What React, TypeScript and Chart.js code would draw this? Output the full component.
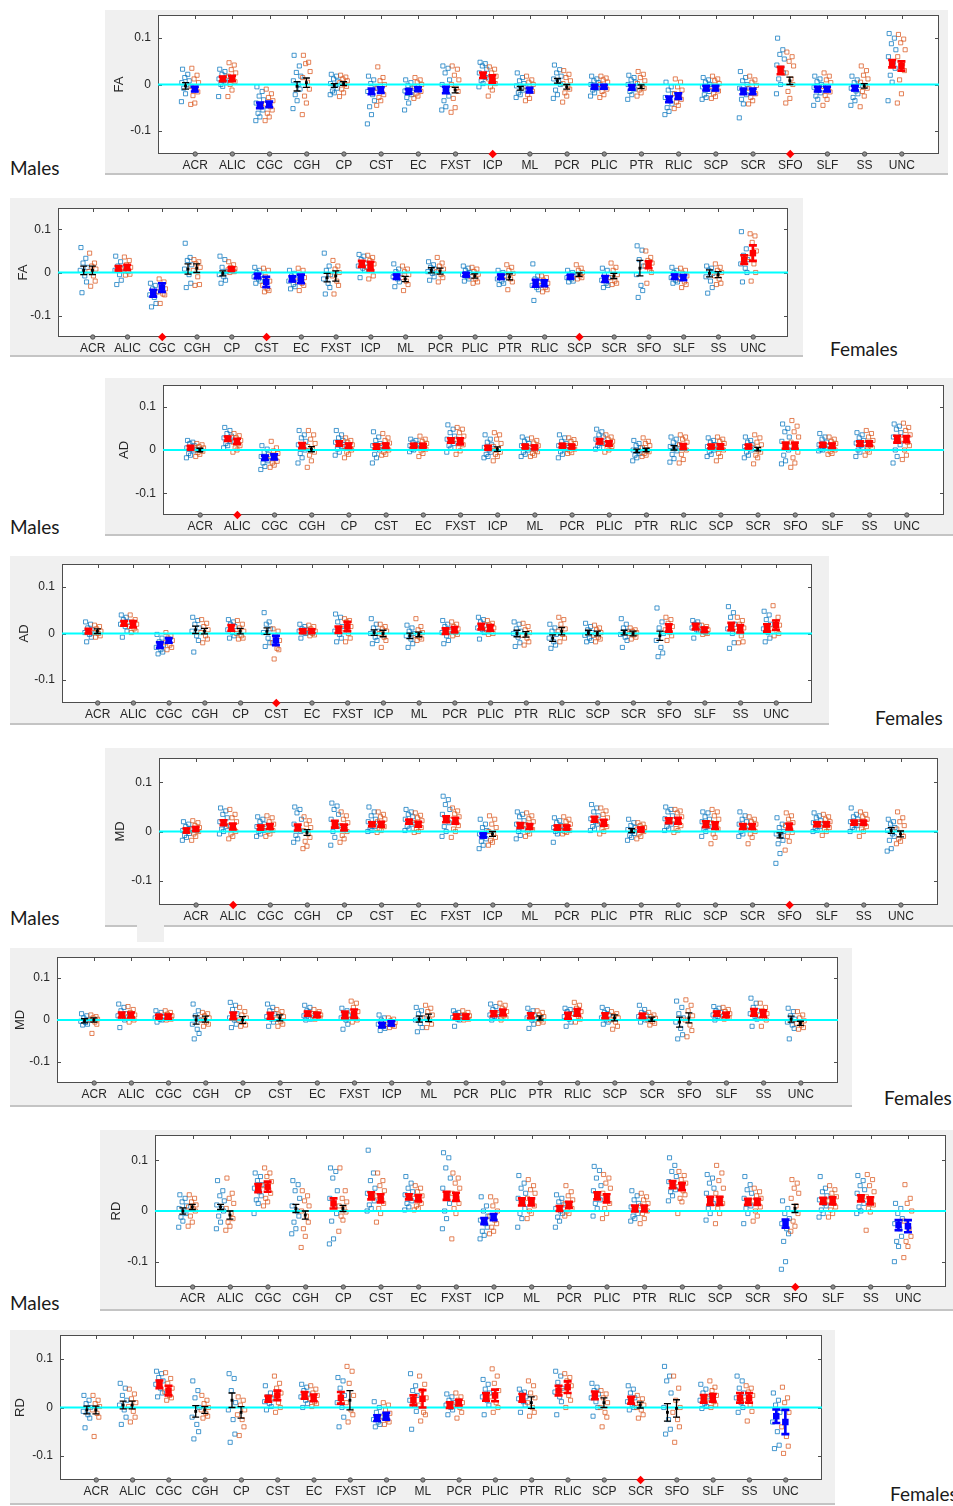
import React, { useEffect, useRef } from 'react';
import { Chart, registerables } from 'chart.js';
Chart.register(...registerables);

// ---------- shared labels ----------
const CATEGORIES = ['ACR','ALIC','CGC','CGH','CP','CST','EC','FXST','ICP','ML','PCR','PLIC','PTR','RLIC','SCP','SCR','SFO','SLF','SS','UNC'];
const Y_TICKS = [-0.1, 0, 0.1];
const Y_TICK_LABELS = ['-0.1', '0', '0.1'];

// ---------- data (values x 1000) ----------
// Panel 1: FA, Males
const FA_M_BLUE_PTS = [[33,22,15,8,4,0,-3,-8,-20,-37],[33,28,22,16,12,8,4,0,-4,-26],[-5,-15,-25,-33,-40,-48,-55,-62,-70,-78],[63,40,26,18,8,0,-10,-22,-35,-52],[22,18,12,7,2,-2,-8,-14,-18,-22],[18,10,2,-8,-15,-22,-35,-48,-65,-85],[10,4,-2,-8,-14,-18,-22,-28,-40,-55],[40,35,25,10,0,-12,-25,-35,-48,-55],[48,45,40,33,25,20,15,8,2,-5],[25,15,8,2,-3,-8,-12,-18,-22,-28],[42,32,25,18,12,6,0,-12,-22,-30],[18,12,8,4,0,-4,-8,-12,-18,-25],[20,15,10,5,0,-5,-10,-15,-22,-32],[5,-5,-12,-20,-28,-35,-42,-50,-58,-65],[15,10,5,0,-5,-10,-15,-22,-28,-32],[28,15,8,0,-8,-15,-22,-32,-42,-72],[100,75,65,55,42,35,25,12,0,-20],[18,12,6,0,-6,-12,-18,-25,-32,-45],[18,10,4,-2,-8,-14,-20,-28,-35,-45],[110,100,88,75,60,48,35,20,5,-35]];
const FA_M_ORANGE_PTS = [[35,20,12,4,-4,-10,-16,-24,-40,-43],[47,42,32,25,18,12,6,0,-12,-26],[-10,-20,-28,-35,-42,-48,-55,-62,-70,-78],[63,48,45,28,15,5,-10,-25,-40,-65],[20,16,12,8,4,0,-4,-10,-18,-26],[38,15,8,0,-8,-15,-22,-28,-35,-45],[15,10,5,0,-5,-10,-15,-20,-25,-30],[40,33,20,10,0,-8,-15,-30,-50,-60],[38,33,25,18,12,8,2,-5,-12,-25],[18,10,5,0,-5,-10,-15,-22,-30,-35],[30,22,15,8,2,-4,-10,-18,-25,-38],[18,14,10,5,0,-5,-10,-15,-22,-28],[28,22,15,8,2,-4,-8,-12,-18,-25],[12,5,-5,-12,-20,-25,-32,-38,-45,-52],[18,12,8,2,-4,-8,-14,-20,-26,-30],[18,10,5,-2,-8,-14,-20,-28,-35,-42],[70,60,50,40,25,12,0,-15,-30,-40],[25,18,10,4,-4,-10,-16,-24,-32,-45],[40,30,20,12,5,-2,-8,-15,-25,-48],[108,98,90,75,60,45,30,10,-20,-40]];
const FA_M_BLUE_MEAN = [-3,12,-45,-4,-2,-15,-15,-12,20,-8,8,-5,-6,-32,-8,-15,30,-10,-8,45];
const FA_M_BLUE_SE = [7,5,6,10,4,6,5,7,6,4,5,4,5,6,5,6,8,5,5,8];
const FA_M_BLUE_SIG = 'krbkkbbbrkkbbbbbrbbr';
const FA_M_ORANGE_MEAN = [-10,13,-43,4,2,-12,-10,-12,12,-12,-5,-5,-5,-25,-8,-15,8,-10,-3,40];
const FA_M_ORANGE_SE = [5,6,6,10,4,6,4,6,8,5,5,4,4,6,5,6,8,5,5,10];
const FA_M_ORANGE_SIG = 'brbkkbbkrbkbkbbbkbkr';
const FA_M_MARKED = [9, 17];

// Panel 2: FA, Females
const FA_F_BLUE_PTS = [[58,33,22,12,5,-8,-22,-47],[38,25,15,10,5,-5,-18,-28],[-25,-30,-38,-45,-52,-58,-72,-80],[68,35,28,18,8,-5,-25,-35],[38,30,12,2,-5,-10,-18,-25],[12,5,0,-5,-10,-15,-20,-25],[5,-2,-8,-15,-20,-28,-33,-38],[45,15,5,-5,-15,-25,-35,-50],[42,38,30,22,15,10,5,-12],[20,8,2,-5,-10,-15,-22,-33],[25,18,12,8,2,-2,-10,-18],[15,10,5,0,-5,-10,-15,-20],[5,0,-5,-10,-15,-20,-25,-28],[20,-8,-15,-22,-30,-35,-40,-65],[5,0,-5,-8,-12,-15,-20,-22],[10,5,-5,-12,-18,-25,-30,-35],[62,52,30,15,-5,-30,-42,-58],[12,5,0,-5,-12,-18,-22,-25],[15,10,5,-2,-10,-20,-35,-48],[95,55,40,30,20,10,0,-22]];
const FA_F_ORANGE_PTS = [[45,22,15,8,2,-8,-20,-32],[36,28,18,12,6,2,-4,-6],[-15,-22,-30,-38,-45,-50,-52,-72],[30,25,20,12,5,-10,-28,-30],[25,18,12,9,6,4,2,0],[10,5,-10,-20,-30,-38,-42,-45],[10,5,-5,-12,-20,-25,-30,-42],[28,15,8,0,-8,-20,-30,-50],[40,35,28,20,12,5,-8,-15],[15,8,2,-5,-12,-20,-28,-42],[35,22,15,8,2,-5,-12,-22],[12,8,2,-4,-10,-15,-22,-25],[18,12,5,-2,-8,-15,-22,-40],[-8,-12,-18,-25,-30,-35,-40,-45],[18,10,5,0,-5,-8,-12,-15],[22,12,5,-5,-12,-20,-25,-28],[50,35,28,22,15,5,0,-25],[10,5,-2,-8,-15,-22,-28,-35],[20,12,5,0,-8,-15,-25,-28],[90,85,70,50,35,20,0,-20]];
const FA_F_BLUE_MEAN = [5,10,-48,8,-2,-8,-15,-12,20,-10,5,-5,-10,-25,-10,-15,10,-10,-2,30];
const FA_F_BLUE_SE = [10,5,8,12,6,5,6,10,7,5,6,4,5,8,4,7,18,5,8,10];
const FA_F_BLUE_SIG = 'krbkkbbkrbkbbbbbkbkr';
const FA_F_ORANGE_MEAN = [5,12,-35,10,8,-22,-15,-8,15,-15,3,-8,-10,-25,-5,-8,18,-12,-5,45];
const FA_F_ORANGE_SE = [10,6,10,10,4,12,10,12,10,6,7,5,7,7,4,6,8,6,7,18];
const FA_F_ORANGE_SIG = 'krbkrbbkrkkkkbkkrbkr';
const FA_F_MARKED = [3, 6, 15];

// Panel 3: AD, Males
const AD_M_BLUE_PTS = [[22,18,15,10,5,2,-2,-8,-12,-18],[52,45,38,32,28,24,20,15,10,5],[10,2,-5,-10,-15,-20,-25,-30,-38,-45],[45,35,28,20,12,6,0,-8,-18,-30],[45,35,28,22,18,12,8,2,-5,-12],[42,30,22,15,10,5,0,-10,-18,-30],[25,22,18,14,10,8,5,2,0,-4],[58,48,40,32,25,20,15,10,4,-5],[35,25,18,12,6,0,-5,-10,-15,-18],[30,25,20,15,10,5,0,-5,-10,-15],[35,28,20,15,10,6,2,-4,-10,-18],[48,42,35,30,25,20,15,10,6,2],[22,15,10,5,0,-4,-8,-12,-18,-25],[30,25,18,12,8,3,-2,-10,-20,-28],[28,22,18,12,8,4,0,-4,-10,-15],[30,22,18,12,8,4,0,-5,-12,-18],[60,50,42,30,20,10,0,-12,-25,-32],[38,30,25,18,12,8,4,2,0,-2],[40,35,28,22,16,10,5,0,-5,-15],[60,55,48,40,30,22,12,0,-15,-30]];
const AD_M_ORANGE_PTS = [[15,12,8,5,2,0,-3,-6,-10,-15],[38,33,28,22,18,14,10,5,0,-5],[20,5,-2,-8,-14,-20,-26,-30,-35,-40],[45,35,25,15,8,2,-5,-12,-25,-40],[28,22,18,12,8,5,0,-5,-10,-18],[38,28,22,16,10,5,0,-5,-10,-12],[32,25,20,15,10,6,2,-2,-8,-15],[52,48,40,32,25,18,12,5,-2,-10],[40,35,25,15,8,2,-5,-10,-15,-25],[28,22,16,10,5,0,-4,-8,-12,-15],[28,24,20,15,10,6,2,-2,-6,-8],[35,30,25,20,15,12,8,4,0,-5],[28,20,15,10,5,0,-4,-8,-12,-15],[35,30,25,18,12,5,0,-10,-22,-30],[30,25,20,15,10,5,0,-8,-15,-25],[35,28,18,12,5,0,-5,-12,-18,-32],[68,55,42,30,18,8,-5,-18,-30,-40],[30,25,20,15,10,5,0,-4,-8,-10],[45,38,30,22,16,10,5,0,-5,-12],[62,52,45,35,25,18,10,0,-12,-22]];
const AD_M_BLUE_MEAN = [5,26,-18,10,15,8,10,22,5,8,10,20,-2,5,8,8,10,12,15,25];
const AD_M_BLUE_SE = [4,5,5,6,5,5,4,5,4,4,4,5,4,5,4,4,7,4,5,8];
const AD_M_BLUE_SIG = 'rrbrrrrrrrrrkkrrrrrr';
const AD_M_ORANGE_MEAN = [0,20,-16,2,10,10,10,20,2,6,8,15,0,8,8,2,10,10,15,25];
const AD_M_ORANGE_SE = [4,6,6,6,5,5,4,7,5,4,4,5,4,6,5,4,7,5,5,7];
const AD_M_ORANGE_SIG = 'krbkrrrrkrrrkrrkrrrr';
const AD_M_MARKED = [2];

// Panel 4: AD, Females
const AD_F_BLUE_PTS = [[25,20,12,8,2,-2,-8,-18],[40,35,30,25,20,15,5,-8],[-2,-10,-18,-25,-30,-35,-40,-44],[35,28,20,12,5,-5,-15,-40],[30,25,20,15,8,2,-5,-10],[45,25,20,10,2,-10,-20,-28],[20,15,10,8,5,2,0,-10],[42,35,25,15,5,-2,-10,-18],[32,20,12,5,0,-8,-15,-22],[18,12,5,0,-5,-12,-22,-30],[28,20,15,8,2,-5,-15,-22],[35,30,25,18,12,8,2,-12],[25,20,10,5,0,-8,-20,-28],[20,12,5,-2,-10,-18,-25,-32],[22,15,8,2,-4,-10,-15,-18],[32,20,12,5,-2,-8,-15,-30],[55,25,12,0,-15,-30,-42,-50],[28,25,20,18,12,8,5,-10],[58,45,35,20,10,0,-20,-32],[48,40,30,20,10,2,-10,-18]];
const AD_F_ORANGE_PTS = [[18,15,10,5,2,0,-5,-8],[40,30,25,20,15,10,5,2],[2,-5,-10,-15,-20,-25,-30,-35],[30,22,15,8,2,-5,-12,-20],[28,20,12,5,0,-5,-10,-12],[10,5,-5,-15,-20,-32,-35,-55],[18,15,10,5,2,0,-3,-5],[32,28,25,15,10,0,-10,-18],[20,15,10,5,0,-8,-15,-30],[32,15,8,2,-4,-8,-12,-15],[25,20,15,10,5,2,-2,-5],[28,22,18,12,8,4,0,-2],[22,15,8,2,-4,-10,-18,-25],[35,30,20,10,5,-2,-10,-18],[18,12,8,2,-4,-8,-12,-18],[12,8,5,2,0,-3,-8,-12],[35,30,22,15,8,2,-5,-15],[18,15,10,8,5,2,0,-2],[35,28,20,12,5,-5,-18,-20],[60,35,25,18,10,5,0,-5]];
const AD_F_BLUE_MEAN = [5,22,-25,8,12,5,5,8,2,-5,5,15,0,-10,2,2,-5,15,15,12];
const AD_F_BLUE_SE = [5,5,6,8,6,7,4,7,6,6,6,6,7,7,5,5,10,6,8,8];
const AD_F_BLUE_SIG = 'rrbkrkrrkkrrkkkkkrrr';
const AD_F_ORANGE_MEAN = [5,20,-15,5,5,-15,5,15,0,-2,8,12,-2,5,0,0,12,8,10,18];
const AD_F_ORANGE_SE = [5,7,5,6,6,10,4,10,7,5,6,6,6,8,5,5,8,5,8,10];
const AD_F_ORANGE_SIG = 'krbkkbrrkkrrkkkkrrrr';
const AD_F_MARKED = [6];

// Panel 5: MD, Males
const MD_M_BLUE_PTS = [[20,15,10,6,2,0,-4,-8,-12,-18],[48,42,35,28,20,15,10,5,0,-5],[30,25,20,15,10,5,2,0,-5,-10],[50,45,38,25,15,8,0,-8,-15,-22],[58,52,45,35,25,18,10,0,-12,-28],[50,40,32,25,20,15,10,5,2,0],[45,40,35,30,25,20,15,10,5,2],[72,65,55,45,35,25,18,10,0,-10],[25,15,8,2,-5,-10,-15,-20,-28,-35],[40,35,30,22,15,10,5,0,-8,-15],[28,22,18,12,8,5,2,0,-5,-22],[55,48,40,32,26,20,15,10,5,2],[25,18,12,8,4,0,-4,-8,-12,-18],[50,45,40,32,26,20,15,10,5,2],[40,38,30,25,20,15,10,5,0,-10],[40,32,25,20,15,10,5,0,-5,-10],[28,15,8,0,-5,-10,-18,-25,-45,-65],[38,32,28,22,18,14,10,6,2,0],[48,35,30,25,20,15,12,8,4,0],[25,20,15,8,2,-5,-10,-18,-35,-40]];
const MD_M_ORANGE_PTS = [[22,18,12,8,5,2,0,-5,-10,-18],[45,35,28,20,12,5,0,-5,-10,-15],[32,28,20,15,10,6,2,0,-5,-10],[30,22,15,8,2,-5,-12,-20,-30,-35],[40,32,25,18,12,5,0,-8,-15,-22],[40,35,30,25,20,15,10,5,2,-2],[38,33,28,22,18,12,8,5,0,-2],[48,42,36,30,24,18,12,5,0,-12],[32,25,15,8,0,-5,-12,-18,-22,-28],[38,32,26,20,14,8,4,0,-5,-10],[30,25,20,15,10,6,2,0,-2,-5],[48,42,35,28,20,15,10,5,0,-5],[18,15,12,8,5,2,0,-5,-10,-15],[45,42,38,30,24,18,12,6,2,-2],[45,40,32,25,18,12,5,-5,-12,-25],[30,25,20,15,10,5,0,-5,-12,-25],[38,32,25,18,12,5,-2,-10,-20,-38],[35,30,25,20,16,12,8,4,0,-8],[40,35,30,25,20,15,10,5,0,-10],[40,28,20,12,5,-2,-10,-15,-20,-25]];
const MD_M_BLUE_MEAN = [2,18,8,8,15,15,20,25,-8,12,8,25,2,22,15,10,-8,15,18,2];
const MD_M_BLUE_SE = [4,5,4,6,7,4,4,6,4,5,4,5,4,5,6,5,5,4,4,6];
const MD_M_BLUE_SIG = 'rrrrrrrrbrrrkrrrkrrk';
const MD_M_ORANGE_MEAN = [5,10,10,-2,8,15,15,22,-5,10,8,18,4,22,12,10,10,15,18,-5];
const MD_M_ORANGE_SE = [4,6,5,6,6,5,5,6,5,5,4,6,4,6,7,5,6,4,4,6];
const MD_M_ORANGE_SIG = 'rrrkrrrrkrrrrrrrrrrk';
const MD_M_MARKED = [2, 17];

// Panel 6: MD, Females
const MD_F_BLUE_PTS = [[15,10,5,0,-3,-6,-10,-12],[38,30,22,15,10,5,0,-18],[22,18,12,8,5,2,0,-5],[38,22,10,0,-10,-22,-32,-45],[42,35,25,15,5,0,-10,-18],[38,30,22,15,8,2,-5,-15],[35,30,22,15,10,5,2,0],[28,22,15,10,5,0,-10,-22],[12,5,0,-5,-10,-15,-20,-25],[30,22,15,5,0,-8,-18,-28],[22,18,15,10,6,2,0,-15],[38,32,25,18,12,8,4,0],[28,22,15,10,5,0,-10,-20],[28,25,20,15,8,2,-5,-15],[30,25,18,12,5,0,-5,-10],[35,25,18,12,8,4,0,-5],[45,30,15,5,-5,-20,-35,-45],[32,28,22,18,12,8,5,0],[52,40,30,22,15,8,2,-15],[28,20,10,2,-5,-12,-20,-45]];
const MD_F_ORANGE_PTS = [[12,8,5,2,0,-5,-10,-32],[32,25,18,12,8,4,0,-5],[22,18,14,10,6,4,2,0],[18,15,10,5,0,-5,-10,-15],[30,20,12,5,0,-5,-12,-15],[25,20,12,8,2,-4,-10,-15],[25,20,15,12,10,8,5,2],[45,40,30,20,12,5,0,-5],[5,2,-2,-6,-10,-12,-15,-18],[35,28,20,12,5,0,-10,-18],[22,18,12,10,6,4,2,0],[40,35,28,20,14,10,5,0],[22,18,12,8,4,0,-5,-8],[42,35,28,20,15,8,2,-5],[20,15,10,5,0,-5,-15,-22],[18,12,8,4,0,-4,-8,-12],[48,35,22,10,0,-12,-25,-40],[30,25,20,15,10,8,5,2],[40,30,22,15,10,5,0,-15],[20,12,5,-2,-8,-12,-18,-22]];
const MD_F_BLUE_MEAN = [-2,12,8,0,10,10,15,12,-12,2,8,15,10,10,10,10,-5,15,18,2];
const MD_F_BLUE_SE = [5,6,4,10,8,7,5,8,5,7,5,6,6,7,6,5,12,5,8,7];
const MD_F_BLUE_SIG = 'krrkrrrrbkrrrrrrkrrk';
const MD_F_ORANGE_MEAN = [0,12,8,2,0,5,12,15,-8,5,8,18,5,18,5,2,5,12,15,-8];
const MD_F_ORANGE_SE = [5,6,5,7,8,7,5,10,5,9,5,7,5,8,7,5,12,5,8,5];
const MD_F_ORANGE_SIG = 'krrkkkrrbkrrkrkkkrrk';
const MD_F_MARKED: number[] = [];

// Panel 7: RD, Males
const RD_M_BLUE_PTS = [[32,25,18,10,5,0,-5,-12,-20,-32],[60,40,30,20,12,5,0,-10,-22,-35],[75,68,60,52,45,38,30,22,15,-5],[60,52,40,25,10,0,-10,-22,-35,-45],[85,78,65,40,25,10,-5,-20,-55,-65],[120,75,60,45,35,28,20,12,5,0],[68,55,45,38,32,25,20,15,8,2],[115,105,85,65,45,30,15,0,-15,-35],[28,10,0,-10,-18,-25,-32,-40,-48,-55],[70,55,45,35,25,15,5,-5,-15,-32],[32,25,18,12,5,0,-5,-12,-20,-32],[88,80,65,50,40,30,22,15,5,-10],[40,30,22,15,8,2,-5,-10,-15,-20],[105,90,78,68,58,50,42,38,30,20],[72,65,55,45,35,25,15,5,-5,-18],[68,52,42,35,25,18,10,5,-5,-25],[20,5,-5,-15,-25,-35,-45,-60,-100,-115],[68,45,38,30,22,15,10,2,-5,-12],[70,60,50,42,35,25,15,8,0,-5],[15,5,-5,-15,-25,-35,-50,-60,-70,-100]];
const RD_M_ORANGE_PTS = [[32,25,18,12,8,4,0,-10,-22,-30],[65,35,25,15,5,-5,-15,-22,-30,-38],[85,75,68,58,50,42,35,25,18,10],[40,30,20,10,0,-10,-22,-35,-50,-72],[85,40,25,18,10,5,-2,-10,-18,-40],[75,60,50,40,30,22,15,5,-5,-22],[50,45,38,30,25,20,15,10,5,2],[75,65,55,45,35,25,15,5,-5,-55],[28,20,10,0,-10,-18,-25,-32,-40,-45],[62,50,42,35,25,18,10,0,-5,-15],[50,38,30,22,15,10,5,0,-5,-10],[72,65,55,45,35,25,15,5,-5,-15],[35,28,22,15,10,5,0,-5,-15,-25],[78,70,62,55,48,40,32,25,18,-5],[90,75,60,45,35,25,15,5,-5,-25],[45,38,30,25,20,15,8,0,-10,-20],[62,55,45,35,25,10,-5,-20,-30,-40],[50,42,35,28,20,15,8,2,-5,-12],[72,62,50,38,28,20,12,5,-2,-38],[52,25,15,0,-20,-35,-50,-60,-70,-92]];
const RD_M_BLUE_MEAN = [0,8,45,5,15,30,28,30,-20,18,5,30,5,52,20,18,-25,20,25,-28];
const RD_M_BLUE_SE = [6,5,8,8,10,7,5,8,6,7,5,7,6,7,8,6,8,6,6,10];
const RD_M_BLUE_SIG = 'kkrkrrrrbrrrrrrrbrrb';
const RD_M_ORANGE_MEAN = [8,-8,48,-8,5,25,25,28,-12,18,12,25,5,48,20,18,5,20,20,-30];
const RD_M_ORANGE_SE = [5,8,10,8,6,8,6,8,6,7,6,8,6,7,8,6,8,7,7,12];
const RD_M_ORANGE_SIG = 'kkrkkrrrbrrrrrrrkrrb';
const RD_M_MARKED = [17];

// Panel 8: RD, Females
const RD_F_BLUE_PTS = [[25,15,8,0,-8,-15,-22,-42],[50,40,25,15,5,-5,-20,-35],[75,70,62,55,48,40,30,22],[55,35,20,0,-20,-35,-50,-65],[70,60,35,10,-5,-25,-55,-72],[45,30,22,18,12,8,2,-5],[48,42,35,28,22,15,8,0],[62,55,40,25,10,0,-20,-40],[12,0,-10,-18,-25,-30,-35,-40],[70,45,35,25,15,5,-8,-45],[28,22,15,10,5,0,-5,-15],[58,48,38,30,22,15,5,-15],[38,32,28,22,18,12,5,-10],[75,65,52,40,32,22,12,-15],[50,42,35,28,20,12,0,-18],[45,38,30,20,12,5,0,-5],[85,65,55,30,0,-25,-45,-55],[48,38,30,22,15,8,2,-2],[65,55,40,30,20,10,0,-10],[30,15,5,-10,-30,-50,-78,-85]];
const RD_F_ORANGE_PTS = [[25,15,8,2,-5,-12,-20,-60],[38,28,18,10,2,-8,-20,-30],[72,60,50,40,32,25,20,15],[25,15,8,0,-5,-12,-18,-22],[22,15,5,-5,-15,-25,-40,-58],[65,50,40,30,20,10,0,-10],[45,38,30,25,18,12,8,2],[85,75,50,25,10,-5,-15,-30],[10,5,-5,-12,-20,-25,-30,-35],[65,48,35,20,5,-10,-15,-28],[30,22,15,10,5,0,-10,-22],[80,65,50,35,22,10,0,-10],[55,45,30,20,10,0,-10,-18],[70,62,55,45,35,25,15,0],[35,28,20,10,0,-10,-20,-40],[25,18,10,5,0,-5,-15,-22],[65,40,15,0,-10,-25,-40,-72],[55,42,35,25,18,12,5,0],[45,40,32,25,15,5,-8,-28],[42,20,10,-10,-40,-60,-80,-95]];
const RD_F_BLUE_MEAN = [-5,5,48,-8,15,18,25,20,-22,15,5,22,20,35,25,15,-10,18,20,-18];
const RD_F_BLUE_SE = [8,8,8,12,15,6,7,12,6,10,6,8,8,10,8,7,18,8,10,14];
const RD_F_BLUE_SIG = 'kkrkkrrrbrrrrrrrkrrb';
const RD_F_ORANGE_MEAN = [-5,5,35,-5,-10,25,20,15,-18,18,10,25,10,42,10,5,-2,20,20,-30];
const RD_F_ORANGE_SE = [8,8,10,7,12,10,7,20,7,18,6,12,12,12,10,6,18,8,10,25];
const RD_F_ORANGE_SIG = 'kkrkkrrkbrrrkrkkkrrb';
const RD_F_MARKED = [16];

// ---------- styling / layout ----------
const SIG_COLORS: Record<string, string> = { r: '#ff0000', b: '#0000ff', k: '#000000' };
const BLUE_PT = 'rgba(0,114,189,0.72)';
const ORANGE_PT = 'rgba(217,83,25,0.72)';
const JITTER = [-0.08, 0.06, -0.02, 0.1, -0.1, 0.03, 0.08, -0.05, 0.0, -0.11];
const BLUE_OFFSET = -0.26;
const ORANGE_OFFSET = -0.01;
const TICK_FONT = { family: "'Liberation Sans', Arial, sans-serif", size: 12 };
const TEXT_COLOR = '#262626';

type Layout = { box: number[]; plot: number[]; titleX: number; side: { text: string; x: number; y: number } };
const LAYOUTS: Layout[] = [
  { box: [105, 10, 843, 163], plot: [158, 15, 939, 154], titleX: 120, side: { text: 'Males', x: 10, y: 168 } },
  { box: [10, 198, 793, 157], plot: [58, 208, 788, 337], titleX: 24, side: { text: 'Females', x: 830, y: 349 } },
  { box: [105, 378, 848, 156], plot: [163, 385, 944, 515], titleX: 125, side: { text: 'Males', x: 10, y: 527 } },
  { box: [10, 556, 819, 167], plot: [62, 564, 812, 703], titleX: 25, side: { text: 'Females', x: 875, y: 718 } },
  { box: [105, 748, 848, 177], plot: [159, 758, 938, 905], titleX: 121, side: { text: 'Males', x: 10, y: 918 } },
  { box: [10, 948, 842, 157], plot: [57, 957, 838, 1083], titleX: 21, side: { text: 'Females', x: 884, y: 1098 } },
  { box: [100, 1130, 853, 179], plot: [155, 1134, 946, 1287], titleX: 117, side: { text: 'Males', x: 10, y: 1303 } },
  { box: [10, 1330, 825, 173], plot: [60, 1333, 822, 1480], titleX: 21, side: { text: 'Females', x: 890, y: 1494 } },
];

type PanelData = {
  measure: string;
  bluePts: number[][]; orangePts: number[][];
  blueMean: number[]; blueSE: number[]; blueSig: string;
  orangeMean: number[]; orangeSE: number[]; orangeSig: string;
  marked: number[];
};

const PANELS: PanelData[] = [
  { measure: 'FA', bluePts: FA_M_BLUE_PTS, orangePts: FA_M_ORANGE_PTS, blueMean: FA_M_BLUE_MEAN, blueSE: FA_M_BLUE_SE, blueSig: FA_M_BLUE_SIG, orangeMean: FA_M_ORANGE_MEAN, orangeSE: FA_M_ORANGE_SE, orangeSig: FA_M_ORANGE_SIG, marked: FA_M_MARKED },
  { measure: 'FA', bluePts: FA_F_BLUE_PTS, orangePts: FA_F_ORANGE_PTS, blueMean: FA_F_BLUE_MEAN, blueSE: FA_F_BLUE_SE, blueSig: FA_F_BLUE_SIG, orangeMean: FA_F_ORANGE_MEAN, orangeSE: FA_F_ORANGE_SE, orangeSig: FA_F_ORANGE_SIG, marked: FA_F_MARKED },
  { measure: 'AD', bluePts: AD_M_BLUE_PTS, orangePts: AD_M_ORANGE_PTS, blueMean: AD_M_BLUE_MEAN, blueSE: AD_M_BLUE_SE, blueSig: AD_M_BLUE_SIG, orangeMean: AD_M_ORANGE_MEAN, orangeSE: AD_M_ORANGE_SE, orangeSig: AD_M_ORANGE_SIG, marked: AD_M_MARKED },
  { measure: 'AD', bluePts: AD_F_BLUE_PTS, orangePts: AD_F_ORANGE_PTS, blueMean: AD_F_BLUE_MEAN, blueSE: AD_F_BLUE_SE, blueSig: AD_F_BLUE_SIG, orangeMean: AD_F_ORANGE_MEAN, orangeSE: AD_F_ORANGE_SE, orangeSig: AD_F_ORANGE_SIG, marked: AD_F_MARKED },
  { measure: 'MD', bluePts: MD_M_BLUE_PTS, orangePts: MD_M_ORANGE_PTS, blueMean: MD_M_BLUE_MEAN, blueSE: MD_M_BLUE_SE, blueSig: MD_M_BLUE_SIG, orangeMean: MD_M_ORANGE_MEAN, orangeSE: MD_M_ORANGE_SE, orangeSig: MD_M_ORANGE_SIG, marked: MD_M_MARKED },
  { measure: 'MD', bluePts: MD_F_BLUE_PTS, orangePts: MD_F_ORANGE_PTS, blueMean: MD_F_BLUE_MEAN, blueSE: MD_F_BLUE_SE, blueSig: MD_F_BLUE_SIG, orangeMean: MD_F_ORANGE_MEAN, orangeSE: MD_F_ORANGE_SE, orangeSig: MD_F_ORANGE_SIG, marked: MD_F_MARKED },
  { measure: 'RD', bluePts: RD_M_BLUE_PTS, orangePts: RD_M_ORANGE_PTS, blueMean: RD_M_BLUE_MEAN, blueSE: RD_M_BLUE_SE, blueSig: RD_M_BLUE_SIG, orangeMean: RD_M_ORANGE_MEAN, orangeSE: RD_M_ORANGE_SE, orangeSig: RD_M_ORANGE_SIG, marked: RD_M_MARKED },
  { measure: 'RD', bluePts: RD_F_BLUE_PTS, orangePts: RD_F_ORANGE_PTS, blueMean: RD_F_BLUE_MEAN, blueSE: RD_F_BLUE_SE, blueSig: RD_F_BLUE_SIG, orangeMean: RD_F_ORANGE_MEAN, orangeSE: RD_F_ORANGE_SE, orangeSig: RD_F_ORANGE_SIG, marked: RD_F_MARKED },
];

// ---------- plugins ----------
const framePlugin = {
  id: 'frame',
  beforeDraw(chart: any) {
    const { ctx, chartArea: a } = chart;
    ctx.save();
    ctx.fillStyle = '#ffffff';
    ctx.fillRect(a.left, a.top, a.right - a.left, a.bottom - a.top);
    ctx.restore();
  },
  beforeDatasetsDraw(chart: any) {
    const { ctx, chartArea: a, scales } = chart;
    const x = scales.x, y = scales.y;
    ctx.save();
    ctx.strokeStyle = '#4d4d4d';
    ctx.lineWidth = 1;
    ctx.strokeRect(Math.round(a.left) + 0.5, Math.round(a.top) + 0.5, Math.round(a.right - a.left) - 1, Math.round(a.bottom - a.top) - 1);
    ctx.beginPath();
    CATEGORIES.forEach((_, i) => {
      const px = Math.round(x.getPixelForValue(i + 1)) + 0.5;
      ctx.moveTo(px, a.top); ctx.lineTo(px, a.top + 4);
    });
    Y_TICKS.forEach((v) => {
      const py = Math.round(y.getPixelForValue(v)) + 0.5;
      ctx.moveTo(a.right, py); ctx.lineTo(a.right - 4, py);
      ctx.moveTo(a.left, py); ctx.lineTo(a.left + 4, py);
    });
    ctx.stroke();
    ctx.restore();
  },
};

const errorBarPlugin = {
  id: 'errbars',
  afterDatasetsDraw(chart: any) {
    const { ctx, scales } = chart;
    const x = scales.x, y = scales.y;
    chart.data.datasets.forEach((ds: any) => {
      if (!ds.errs) return;
      ds.data.forEach((p: any, i: number) => {
        const px = x.getPixelForValue(p.x);
        const lo = y.getPixelForValue(p.y - ds.errs[i]);
        const hi = y.getPixelForValue(p.y + ds.errs[i]);
        const col = ds.barColors[i];
        const bold = col !== '#000000';
        const cw = bold ? 4 : 3.5;
        ctx.save();
        ctx.strokeStyle = col;
        ctx.lineWidth = bold ? 2.6 : 1.3;
        ctx.beginPath();
        ctx.moveTo(px, lo); ctx.lineTo(px, hi);
        ctx.moveTo(px - cw, lo); ctx.lineTo(px + cw, lo);
        ctx.moveTo(px - cw, hi); ctx.lineTo(px + cw, hi);
        ctx.stroke();
        ctx.restore();
      });
    });
  },
};

function buildDatasets(d: PanelData) {
  const pts = (groups: number[][], off: number) =>
    groups.flatMap((g, ci) => g.map((v, k) => ({ x: ci + 1 + off + JITTER[k % JITTER.length], y: v / 1000 })));
  const means = (m: number[], off: number) => m.map((v, ci) => ({ x: ci + 1 + off, y: v / 1000 }));
  const sigCols = (s: string) => s.split('').map((c) => SIG_COLORS[c]);
  const sigRad = (s: string) => s.split('').map((c) => (c === 'k' ? 2 : 4.6));
  return [
    { type: 'scatter', data: pts(d.bluePts, BLUE_OFFSET), pointStyle: 'rect', pointRadius: 2.9, pointBorderWidth: 1, pointBorderColor: BLUE_PT, pointBackgroundColor: 'rgba(0,0,0,0)', order: 6 },
    { type: 'scatter', data: pts(d.orangePts, ORANGE_OFFSET), pointStyle: 'rect', pointRadius: 2.9, pointBorderWidth: 1, pointBorderColor: ORANGE_PT, pointBackgroundColor: 'rgba(0,0,0,0)', order: 5 },
    { type: 'line', data: [{ x: 0, y: 0 }, { x: 21, y: 0 }], showLine: true, borderColor: '#00ffff', borderWidth: 2, pointRadius: 0, order: 4 },
    { type: 'scatter', data: means(d.blueMean, BLUE_OFFSET), pointStyle: 'rect', pointRadius: sigRad(d.blueSig), pointBorderWidth: 0, pointBackgroundColor: sigCols(d.blueSig), errs: d.blueSE.map((v) => v / 1000), barColors: sigCols(d.blueSig), order: 2 },
    { type: 'scatter', data: means(d.orangeMean, ORANGE_OFFSET), pointStyle: 'rect', pointRadius: sigRad(d.orangeSig), pointBorderWidth: 0, pointBackgroundColor: sigCols(d.orangeSig), errs: d.orangeSE.map((v) => v / 1000), barColors: sigCols(d.orangeSig), order: 2 },
    { type: 'scatter', data: CATEGORIES.map((_, i) => ({ x: i + 1, y: -0.15 })).filter((p) => !d.marked.includes(p.x)), pointStyle: 'circle', pointRadius: 2.2, pointBorderWidth: 1, pointBorderColor: '#555555', pointBackgroundColor: '#8a8a8a', clip: false, order: 1 },
    { type: 'scatter', data: d.marked.map((c) => ({ x: c, y: -0.15 })), pointStyle: 'rectRot', pointRadius: 4.2, pointBorderWidth: 0, pointBackgroundColor: '#ff0000', clip: false, order: 0 },
  ];
}

function Panel({ data, layout }: { data: PanelData; layout: Layout }) {
  const ref = useRef<HTMLCanvasElement>(null);
  const [bx, by, bw, bh] = layout.box;
  const [pl, pt, pr, pb] = layout.plot;
  useEffect(() => {
    if (!ref.current) return;
    const xH = Math.min(18, by + bh - pb);
    const yW = pl - bx;
    const chart = new Chart(ref.current, {
      type: 'scatter',
      data: { datasets: buildDatasets(data) as any },
      options: {
        animation: false,
        responsive: false,
        maintainAspectRatio: false,
        events: [],
        layout: { padding: { left: 0, top: pt - by, right: bx + bw - pr, bottom: by + bh - pb - xH } },
        plugins: { legend: { display: false }, tooltip: { enabled: false } },
        scales: {
          x: {
            type: 'linear', min: 0, max: 21,
            grid: { display: false, drawTicks: false },
            border: { display: false },
            afterFit: (s: any) => { s.height = xH; s.paddingLeft = 0; s.paddingRight = 0; },
            afterBuildTicks: (s: any) => { s.ticks = CATEGORIES.map((_, i) => ({ value: i + 1 })); },
            ticks: { autoSkip: false, maxRotation: 0, minRotation: 0, padding: 4, font: TICK_FONT, color: TEXT_COLOR, callback: (_v: any, i: number) => CATEGORIES[i] },
          },
          y: {
            type: 'linear', min: -0.15, max: 0.15,
            grid: { display: false, drawTicks: false },
            border: { display: false },
            afterFit: (s: any) => { s.width = yW; s.paddingTop = 0; s.paddingBottom = 0; },
            afterBuildTicks: (s: any) => { s.ticks = Y_TICKS.map((v) => ({ value: v })); },
            ticks: { padding: 7, font: TICK_FONT, color: TEXT_COLOR, callback: (_v: any, i: number) => Y_TICK_LABELS[i] },
            title: { display: true, text: data.measure, font: { family: TICK_FONT.family, size: 13 }, color: TEXT_COLOR, padding: { top: Math.max(0, layout.titleX - bx - 8), bottom: 0 } },
          },
        },
      } as any,
      plugins: [framePlugin, errorBarPlugin],
    });
    return () => chart.destroy();
  }, []);
  return (
    <>
      <div style={{ position: 'absolute', left: bx, top: by, width: bw, height: bh, background: '#f0f0f0', borderBottom: '2px solid #c4c4c4' }}>
        <canvas ref={ref} width={bw} height={bh} style={{ display: 'block', width: bw, height: bh }} />
      </div>
      <div style={{ position: 'absolute', left: layout.side.x, top: layout.side.y - 13, fontFamily: "Lato, 'Open Sans', sans-serif", fontSize: 19, lineHeight: '26px', color: '#1a1a1a', whiteSpace: 'nowrap' }}>
        {layout.side.text}
      </div>
    </>
  );
}

export default function App() {
  return (
    <div style={{ position: 'absolute', left: 0, top: 0, width: 953, height: 1506, overflow: 'hidden', background: '#ffffff' }}>
      {PANELS.map((d, i) => <Panel key={i} data={d} layout={LAYOUTS[i]} />)}
      <div style={{ position: 'absolute', left: 137, top: 925, width: 27, height: 17, background: '#f0f0f0' }} />
    </div>
  );
}
